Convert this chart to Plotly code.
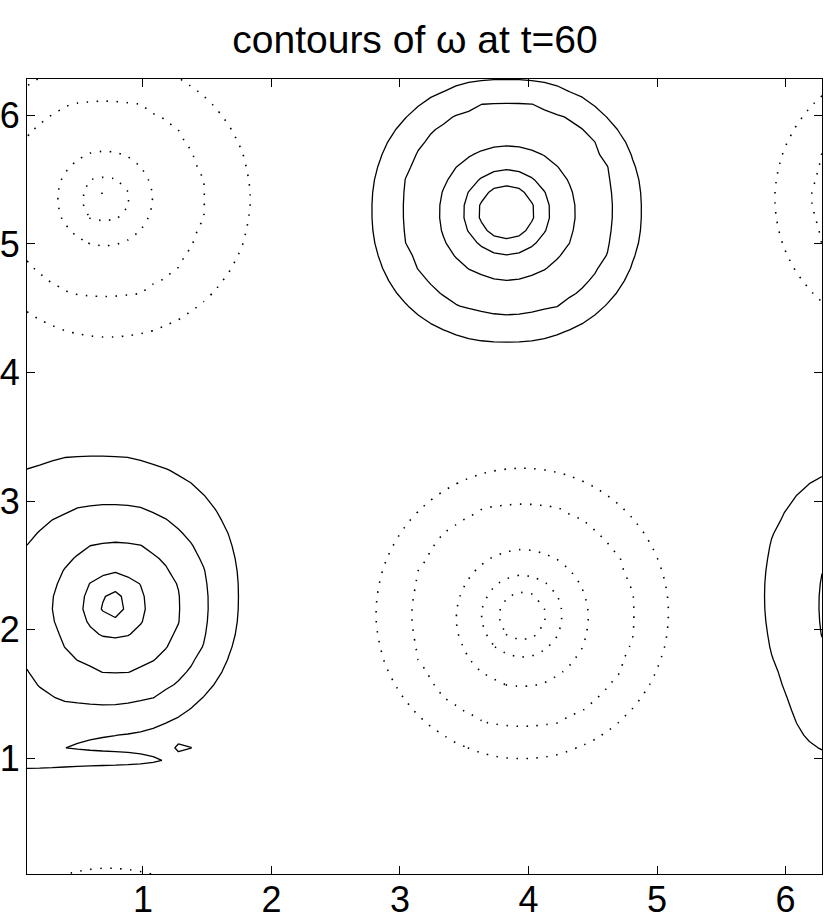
import numpy as np
import plotly.graph_objects as go

TWO_PI = 2 * np.pi
N = 64
grid = TWO_PI / N * np.arange(1, N + 1)

title_text = "contours of ω at t=60"
tick_values = [1, 2, 3, 4, 5, 6]
ring_levels = [5, 4, 3, 2, 1]          # level of each ring, innermost -> outermost

# vortices (data units); rings innermost -> outermost
vortex_sign = [1, -1, 1, -1]
vortex_peak = [6.0, 5.9, 5.6, 5.15]
ring_cx = [
    [3.828, 3.830, 3.836, 3.844, 3.828],
    [3.949, 3.950, 3.954, 3.951, 3.951],
    [0.770, 0.777, 0.797, 0.746, 0.640],
    [0.692, 0.707, 0.704, 0.697, 0.737],
]
ring_cy = [
    [5.246, 5.248, 5.240, 5.270, 5.259],
    [2.104, 2.106, 2.088, 2.112, 2.127],
    [2.191, 2.184, 2.176, 2.191, 2.265],
    [5.367, 5.343, 5.355, 5.351, 5.351],
]
ring_rx = [
    [0.216, 0.339, 0.535, 0.833, 1.043],
    [0.183, 0.319, 0.518, 0.883, 1.136],
    [0.095, 0.265, 0.502, 0.778, 1.100],
    [0.047, 0.202, 0.374, 0.791, 1.105],
]
ring_ry = [
    [0.214, 0.333, 0.525, 0.837, 1.018],
    [0.191, 0.325, 0.537, 0.889, 1.128],
    [0.110, 0.265, 0.521, 0.790, 1.089],
    [0.047, 0.202, 0.374, 0.790, 1.080],
]
ring_p = [
    [2.0, 2.0, 2.05, 2.15, 2.2],
    [2.0, 2.0, 2.0, 2.0, 2.0],
    [2.0, 2.0, 2.05, 2.15, 2.3],
    [2.0, 2.0, 2.0, 2.0, 2.0],
]
outer_fall = 0.3

# thin filament trailing the lower-left vortex, its corner bulge and a tiny patch
filament = dict(x0=0.55, y0=0.982, wx=0.79, sy=0.06, amp=1.1)
corner_blob = dict(x0=0.0, y0=1.102, s=0.4, amp=0.7)
small_patch = dict(x0=1.325, y0=1.080, sx=0.09, sy=0.04, amp=1.03)

X, Y = np.meshgrid(grid, grid)


def wrap(d):
    return (d + np.pi) % TWO_PI - np.pi


def vortex_field(i):
    L = ring_levels
    G = []
    for k in range(5):
        dx = np.abs(wrap(X - ring_cx[i][k])) / ring_rx[i][k]
        dy = np.abs(wrap(Y - ring_cy[i][k])) / ring_ry[i][k]
        p = ring_p[i][k]
        G.append((dx ** p + dy ** p) ** (1.0 / p))
    G = np.array(G)
    f = L[4] * np.clip(1 - (G[4] - 1) / outer_fall, 0, 1)
    for k in range(3, -1, -1):
        m = G[k + 1] <= 1
        den = np.maximum(G[k] - G[k + 1], 1e-6)
        val = L[k + 1] + (L[k] - L[k + 1]) * np.clip((1 - G[k + 1]) / den, 0, 1)
        f = np.where(m, val, f)
    m0 = G[0] <= 1
    f = np.where(m0, vortex_peak[i] - (vortex_peak[i] - L[0]) * G[0] ** 2, f)
    return vortex_sign[i] * f


Z = sum(vortex_field(i) for i in range(4))
Z = Z + filament["amp"] * np.exp(-(((X - filament["x0"]) / filament["wx"]) ** 4)) \
    * np.exp(-(((Y - filament["y0"]) / filament["sy"]) ** 2))
Z = Z + corner_blob["amp"] * np.exp(-((wrap(X - corner_blob["x0"]) ** 2 + (Y - corner_blob["y0"]) ** 2)
                                       / corner_blob["s"] ** 2))
Z = Z + small_patch["amp"] * np.exp(-(((X - small_patch["x0"]) / small_patch["sx"]) ** 2
                                      + ((Y - small_patch["y0"]) / small_patch["sy"]) ** 2))

black = [[0, "black"], [1, "black"]]
fig = go.Figure()
fig.add_trace(go.Contour(
    x=grid, y=grid, z=Z, autocontour=False,
    contours=dict(start=1, end=5, size=1, coloring="lines"),
    colorscale=black, showscale=False, hoverinfo="skip",
    line=dict(width=1.3, smoothing=0),
))
fig.add_trace(go.Contour(
    x=grid, y=grid, z=Z, autocontour=False,
    contours=dict(start=-5, end=-1, size=1, coloring="lines"),
    colorscale=black, showscale=False, hoverinfo="skip",
    line=dict(width=1.6, smoothing=0, dash="1.5px,8.5px"),
))

font = "Liberation Sans, Arial, sans-serif"
axis_common = dict(
    range=[TWO_PI / N, TWO_PI], tickvals=tick_values, ticktext=[str(v) for v in tick_values],
    ticks="inside", ticklen=8, tickwidth=1, tickcolor="black",
    showline=True, linecolor="black", linewidth=1, mirror="ticks",
    showgrid=False, zeroline=False, automargin=False,
    tickfont=dict(family=font, size=36, color="black"),
)
fig.update_xaxes(**axis_common, ticklabelstandoff=-6)
fig.update_yaxes(**axis_common, ticklabelstandoff=-1)
fig.update_layout(
    width=830, height=923,
    margin=dict(l=27, r=8, t=79, b=49, autoexpand=False),
    paper_bgcolor="white", plot_bgcolor="white",
    showlegend=False,
    title=dict(text=title_text, x=0.5, xanchor="center", xref="container",
               y=1 - 39 / 923, yanchor="middle", yref="container",
               font=dict(family=font, size=39, color="black")),
)
# remove the default 8px page margin so the 830x923 figure fills the window
fig.write_html("out.html", config={"displayModeBar": False},
               post_script="document.body.style.margin='0';")
